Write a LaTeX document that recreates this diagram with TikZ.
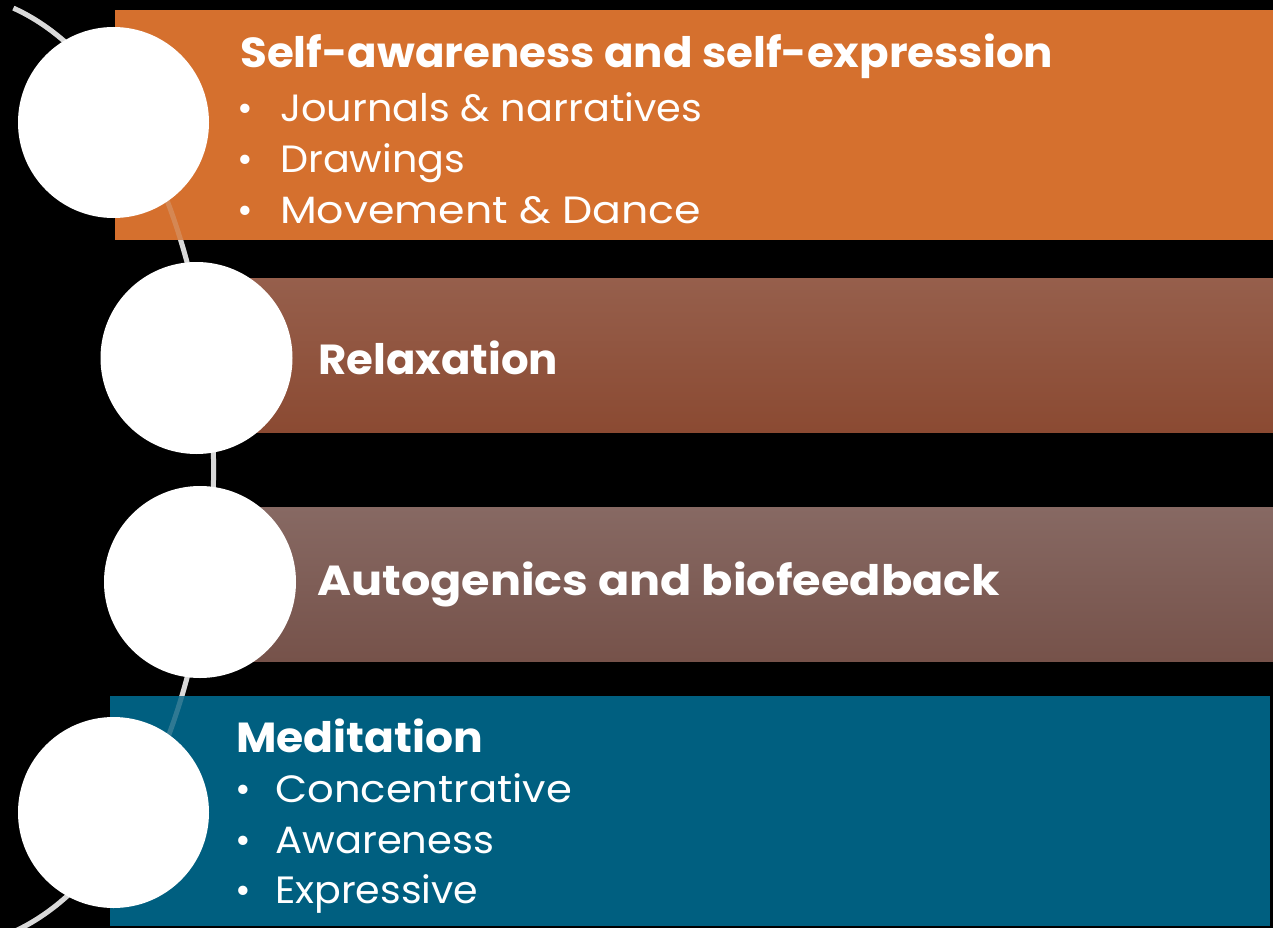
\documentclass[tikz,border=0pt]{standalone}
\usepackage{fontspec}
\usepackage{graphicx}
\setmainfont{Poppins}
\definecolor{bgblack}{HTML}{000000}
\definecolor{arcgray}{HTML}{D9D9D9}
\definecolor{orangeband}{HTML}{D5702E}
\definecolor{rusttop}{HTML}{965F4C}
\definecolor{rustbot}{HTML}{8B4A32}
\definecolor{mauvetop}{HTML}{876963}
\definecolor{mauvebot}{HTML}{76524A}
\definecolor{blueband}{HTML}{005F80}
\newcommand{\widthto}[2]{\resizebox{#1}{\height}{#2}}
\tikzset{
  disc/.style={circle, fill=white, draw=none, inner sep=0pt},
  arcline/.style={draw=arcgray, line width=5pt},
  titletext/.style={anchor=base west, inner sep=0pt, text=white, font=\fontsize{42}{42}\selectfont\bfseries},
  itemtext/.style={anchor=base west, inner sep=0pt, text=white, font=\fontsize{38}{38}\selectfont},
  bullettext/.style={anchor=base, inner sep=0pt, text=white, font=\fontsize{38}{38}\selectfont},
}
\begin{document}
\begin{tikzpicture}[x=1pt,y=1pt]
\fill[bgblack] (0,0) rectangle (1273,-928);
\useasboundingbox (0,0) rectangle (1273,-928);
\begin{scope}
\clip (0,0) rectangle (1273,-928);
% arc behind
\draw[arcline] (13.37,-8.12) arc[start angle=76, end angle=-76, x radius=264pt, y radius=476pt];
% bands
\fill[orangeband] (115,-10) rectangle (1273,-240);
\shade[top color=rusttop, bottom color=rustbot] (250,-278) rectangle (1273,-432);
\shade[top color=mauvetop, bottom color=mauvebot] (250,-507) rectangle (1273,-661);
\fill[blueband] (110,-696) rectangle (1270,-926);
% arc seen through the bands
\draw[arcline, draw opacity=0.22] (13.37,-8.12) arc[start angle=76, end angle=-76, x radius=264pt, y radius=476pt];
\end{scope}
% circles
\node[disc, minimum size=191pt] (c1) at (113.5,-122.5) {};
\node[disc, minimum size=192pt] (c2) at (196.5,-358) {};
\node[disc, minimum size=192pt] (c3) at (200,-582) {};
\node[disc, minimum size=191pt] (c4) at (113.5,-812.5) {};
% texts band 1
\node[titletext] (t1) at (240,-68) {\widthto{813pt}{Self-awareness and self-expression}};
\node[bullettext] (b11) at (245,-122) {•};
\node[itemtext] (i11) at (280,-122) {\widthto{422pt}{Journals \& narratives}};
\node[bullettext] (b12) at (245,-173) {•};
\node[itemtext] (i12) at (280,-173) {\widthto{185pt}{Drawings}};
\node[bullettext] (b13) at (245,-223) {•};
\node[itemtext] (i13) at (280,-223) {\widthto{421pt}{Movement \& Dance}};
% band 2
\node[titletext] (t2) at (318,-374) {\widthto{240pt}{Relaxation}};
% band 3
\node[titletext] (t3) at (317,-595) {\widthto{683pt}{Autogenics and biofeedback}};
% band 4
\node[titletext] (t4) at (236,-752) {\widthto{247pt}{Meditation}};
\node[bullettext] (b41) at (243,-802) {•};
\node[itemtext] (i41) at (275,-802) {\widthto{297pt}{Concentrative}};
\node[bullettext] (b42) at (243,-853) {•};
\node[itemtext] (i42) at (275,-853) {\widthto{219pt}{Awareness}};
\node[bullettext] (b43) at (243,-903) {•};
\node[itemtext] (i43) at (275,-903) {\widthto{203pt}{Expressive}};
\end{tikzpicture}
\end{document}
